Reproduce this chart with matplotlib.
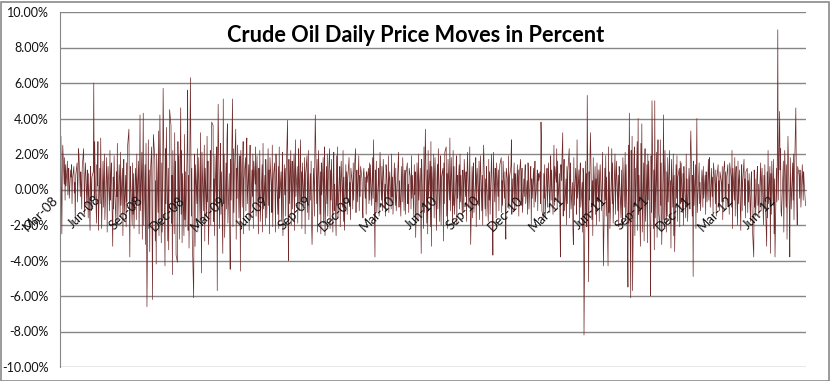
import numpy as np
import pandas as pd
import matplotlib
matplotlib.use("Agg")
import matplotlib.pyplot as plt
import matplotlib.dates as mdates
from matplotlib.ticker import FuncFormatter, MultipleLocator
from matplotlib.patches import Rectangle

# daily % moves, one list per calendar year
moves_2008 = [
    3.0, -0.4, -2.5, 1.2, 2.5, 0.3, 1.8, -0.6, 1.4, 0.2, 1.6, -0.3, 0.9, 1.2, -0.5, 1.1, 0.7, 1.4, -0.8, 0.6,
    1.3, -0.2, 0.4, -1.8, 0.8, 1.5, -0.7, 0.5, 2.3, 1.9, -0.4, 1.0, 0.3, -1.1, 1.2, 2.3, 0.6, -1.4, 0.8, 1.5,
    -0.9, 1.1, 0.2, -1.6, 0.9, -2.3, 1.3, 0.4, -1.2, 0.7, 1.0, 6.0, -0.5, 2.7, 0.8, -1.9, 1.4, 0.2, 2.7, -2.3,
    1.2, -0.8, 2.9, 0.5, -2.2, 1.6, -1.0, 0.6, 2.0, -1.7, 0.9, 1.8, -2.4, 0.4, 1.3, -1.2, 2.2, -0.6, 0.8, 1.5,
    -3.2, 0.7, -1.1, 1.9, 0.3, -2.0, 1.0, -0.4, 2.6, -1.8, 1.4, 0.6, -1.5, 2.1, -0.9, 1.2, -2.6, 0.5, 1.7, -1.3,
    0.8, -2.1, 1.5, -0.7, 2.4, 3.4, -1.0, -3.8, 1.3, 0.4, -2.0, 1.5, -1.4, 0.9, -2.2, 1.2, 0.6, -1.7, 2.0, -0.8,
    1.6, -2.5, 0.3, 4.2, -1.2, 2.1, -2.8, 0.8, 4.3, -2.0, 1.4, -3.1, 2.6, -1.5, -6.6, 2.8, -2.2, 1.1, -3.5, 0.6,
    2.4, -1.8, -6.2, 1.0, 3.1, 1.7, -2.9, 0.5, -4.2, 2.0, -1.3, 3.3, -2.6, 0.9, 4.2, -3.0, 1.5, -2.4, 0.7, 5.7,
    -1.6, -4.3, 2.3, -0.8, 3.5, -2.9, 1.2, -3.4, 0.6, 4.5, 3.6, -1.9, 0.8, -4.8, 2.2, -2.5, 3.2, -1.1, 1.6, -3.7,
    -4.1, 2.7, -0.6, 1.9, -2.8, 4.6, -1.4, 2.2, -3.0, 0.9, -2.6, 3.1, -1.7, 1.0, -2.1, 2.4, 5.6, -2.3, 0.8, -3.3,
    6.3, 2.6, -1.5, 1.2, -2.7, -6.1, 0.5, 2.0, -3.2, 1.4, -0.8, 2.3, -2.4, 0.5, 1.8, -1.9, 3.2, -1.0,
]
moves_2009 = [
    -4.7, 2.1, -1.2, 0.8, 2.5, -2.9, 1.2, -1.5, 3.0, -0.7, 1.6, -3.1, 0.4, 2.2, -2.0, 1.1, 3.8, 3.6, -1.8, 0.6,
    -2.6, 1.9, -0.9, 2.4, -5.7, 1.3, 4.8, -2.2, 0.7, 2.6, -1.4, 1.0, -3.6, 5.1, -0.8, 2.0, -2.7, 1.5, -1.1, 2.8,
    3.7, -1.9, 0.9, -2.4, -4.5, 1.7, -0.6, 5.1, -2.1, 2.3, -1.3, 0.8, 3.4, -2.8, 1.2, -0.5, 2.5, -1.6, 0.4, 1.9,
    -4.6, 2.2, -1.0, 1.5, 2.7, -2.5, 0.6, 1.8, -1.2, 2.3, 2.9, -0.8, 1.4, -2.3, 0.9, 2.5, -1.7, 1.1, -0.4, 2.0,
    -2.2, 1.6, 0.3, 2.4, -1.5, 0.7, 1.9, -2.5, 1.2, -0.6, 2.2, -1.8, 0.5, 1.4, -2.4, 2.6, -1.1, 0.8, -2.0, 1.7,
    0.4, -1.6, 2.3, -0.9, 1.1, -2.5, 1.8, 0.2, -1.3, 2.5, -2.1, 0.6, 1.5, -0.7, -2.4, 2.0, 0.9, -1.4, 1.3, -2.2,
    2.4, -0.5, 1.0, -1.8, 0.6, 2.1, -2.6, 1.4, -0.3, 1.2, -1.5, 0.8, 3.9, -1.2, -4.0, 1.7, -0.8, 2.2, -2.0, 0.5,
    1.6, -1.1, 2.0, -2.3, 0.9, 2.8, -0.4, 1.3, -1.9, 0.6, 2.3, -1.2, 2.8, -0.7, 1.0, -2.2, 1.5, -0.9, 0.4, 1.8,
    -2.5, 0.8, 1.9, -1.3, 0.5, 2.2, -1.7, 0.9, -0.6, 1.6, -2.0, -3.1, 1.2, 0.4, -1.5, 2.1, 4.2, -0.8, 1.7, -2.4,
    0.6, 2.2, -1.4, 1.0, -2.5, 1.5, -0.3, 1.8, -1.9, 0.7, 2.4, -2.6, 1.3, -0.8, 2.0, -1.5, 0.5, 2.3, -2.2, 1.1,
    -0.6, 1.7, -2.4, 0.9, 2.1, -1.2, 0.3, -2.6, 1.9, -0.9, 2.4, -1.6, 0.8, 1.3, -2.1, 0.5, 1.6, -1.0, 2.2, -1.8,
    0.7, -2.3, 1.4, -0.5, 1.0, -1.4, 0.6, 1.8, -0.8, 0.4, -1.7, 1.2, 0.3, -1.1, 1.5, -0.6, 0.9, 2.3, -1.3, 0.5,
    1.1, -0.7, 1.9, -1.2, 0.8, -0.4, 1.3, 0.6, -1.0, -1.6, 0.9, 1.2, -0.5, 0.7, -1.4, 1.0, 0.4, 1.2, -0.8, 1.5, -0.6,
]
moves_2010 = [
    1.4, -0.9, 0.6, 1.8, -0.5, 2.8, -3.8, 1.1, -0.7, 1.6, -1.3, 0.4, 1.2, -1.5, 0.8, 2.1, -0.6, 1.3, -1.2, 0.5,
    1.7, -1.0, 0.3, -1.5, 1.4, 0.9, -0.8, 1.9, -1.3, 0.6, 1.0, -1.1, 2.0, -0.4, 0.7, -1.4, 1.5, 0.2, -0.9, 1.2,
    -1.2, 0.8, 1.6, 2.1, -1.0, 0.5, -1.5, 1.3, 0.4, -0.7, 1.8, -1.2, 0.6, 1.1, -1.4, 0.9, 1.5, -0.8, 0.3, -1.3,
    1.2, 0.6, -1.1, 1.9, -0.5, 0.8, -1.6, 1.4, -0.3, 1.0, -2.7, 1.5, 0.7, -1.8, 2.0, -0.6, 1.2, -1.4, -3.6, 1.7,
    0.5, -2.2, 2.4, -1.3, 0.8, 3.4, -1.9, 1.1, -2.5, 2.2, -0.4, 1.6, -2.1, 2.7, -3.2, 1.3, -0.7, 2.0, -1.6, 0.9,
    1.8, -2.3, 0.6, 1.4, -1.1, 2.3, -1.8, 0.4, 1.9, -2.0, 0.7, 1.2, -2.9, 1.5, -0.8, 2.1, 2.4, -1.5, 0.9, -2.2,
    1.7, -0.6, 2.9, -1.2, 0.5, 1.8, -1.9, 2.2, -0.9, 1.3, -1.4, 0.6, 1.9, -2.0, 0.8, -0.5, 1.4, -1.1, 2.0, -0.7,
    0.8, -1.5, 1.1, 0.3, -1.2, 1.7, -0.4, 1.0, -1.8, 0.6, 2.1, -1.0, 0.5, 2.4, -0.8, -3.1, 1.3, -1.6, 0.9, 1.5,
    -1.3, 0.4, 1.8, -2.1, 0.7, 1.2, -0.9, 1.6, -1.7, 0.5, 1.9, -1.2, 0.8, -2.0, 1.4, 2.5, -1.1, 0.6, -1.5, 1.3,
    0.3, -1.8, 1.7, -0.6, 1.0, -1.4, 2.0, 0.5, -1.0, -3.7, 2.1, -0.7, 1.2, 0.6, -1.6, 1.5, -0.4, 1.1, -1.2, 0.8,
    1.4, 1.8, -1.3, 0.5, -0.9, 1.6, -0.5, 1.0, -1.5, -2.8, 1.2, 0.4, -0.8, 1.9, -1.1, 0.7, 1.3, 2.8, -1.4, 0.6,
    -0.7, 1.5, -1.2, 0.9, 0.3, -1.0, 1.4, -0.6, 1.1, -1.5, 0.8, 1.7, -0.9, 0.4, 1.2, -1.3, 0.6, -0.4, 1.0, 1.4,
    -0.8, 0.5, -1.4, 1.5, 0.7, -1.1, 0.9, 1.3, -2.0, 0.6, -0.5, 1.2, -1.0, 0.8, 1.6, -0.7, 0.4, 1.1, -1.2, 0.9, 0.5,
]
moves_2011 = [
    1.0, -0.8, 3.8, 2.7, -1.2, -1.6, 0.9, -0.5, 1.4, -1.6, 0.7, 1.2, -1.0, 0.4, 1.5, -1.3, 0.8, 1.9, -0.6, 1.1,
    -1.4, 0.6, 2.5, -0.9, 1.3, 0.4, 2.3, -1.1, 1.6, -0.7, 0.9, -1.8, -3.8, 1.4, 0.5, 3.2, -1.5, 0.8, 1.7, -1.2,
    0.6, -2.0, 1.3, -0.8, 1.0, 2.3, -1.6, 0.7, 1.5, -1.1, 0.4, -2.2, -3.1, 1.8, -0.9, 1.2, 0.6, -1.4, 2.8, -0.5,
    1.1, -1.9, 0.8, 1.5, -1.0, 0.4, -2.4, 1.2, 0.7, -8.2, 1.6, -1.5, 0.9, -2.1, 5.3, -5.2, 1.0, -0.6, 1.8, 3.2,
    -1.7, 0.5, -2.6, 1.8, -0.9, 1.3, -1.4, 0.6, -2.0, 1.5, -0.7, 1.1, -1.8, 0.8, 1.4, -1.2, 0.5, 2.1, -1.0, -4.3,
    1.2, -0.6, 1.9, -1.5, 0.7, -4.3, 2.4, -1.3, 1.0, -2.2, 0.6, 2.3, -0.8, 1.5, -1.9, 0.9, 2.0, -1.4, 0.4, 1.6,
    -1.2, 0.8, -2.1, 1.3, 0.5, -1.6, 1.1, -0.7, -2.0, 1.8, -1.0, 0.6, 2.1, -1.7, 1.4, -2.8, -5.5, 2.5, -1.9, 4.3,
    -6.1, 2.2, -1.5, 3.0, -5.7, 1.7, 2.4, -2.6, 1.2, -0.9, 2.7, -2.3, 4.0, -1.4, 0.8, -3.2, 2.6, -1.1, 3.7, -2.4,
    1.5, -2.9, 0.9, 2.3, -1.8, 1.4, -3.0, 2.0, -0.6, 1.6, -2.5, -6.0, 1.9, -1.3, 5.0, -2.2, 1.1, -3.4, 5.0, -1.6,
    2.1, -2.7, 0.8, 2.8, -1.2, -2.3, 2.8, -0.9, 1.5, -3.1, 1.2, 4.2, -1.7, 0.6, 2.2, -2.4, 1.0, -1.5, 1.8, -0.7,
    2.2, -1.9, 0.5, -3.3, 1.7, -1.0, 2.0, -2.6, 0.8, -3.5, 1.4, -0.5, 1.9, -1.8, 0.7, 1.2, -2.1, 1.6, -0.8, 1.5,
    -1.3, 0.9, -2.0, 1.3, 0.5, -1.6, 2.0, -1.0, 0.6, -1.8, 1.2, 0.4, -1.1, 2.3, 3.3, -1.5, 0.8, -4.9, 1.6, -0.9,
    1.4, -2.2, 0.7, 4.0, -1.3, 0.9, 1.5, -0.8, 0.4, -1.2, 1.1, 0.6, -1.0, 1.3, -0.5, 0.8, -1.4, 1.0, 0.3, -0.7,
]
moves_2012 = [
    1.7, -0.6, 1.8, 0.9, -1.0, 1.2, -0.4, 0.7, -1.3, 1.5, 0.3, -0.8, 1.1, -1.5, 0.6, 1.4, -0.9, 0.5, -1.2, 1.0,
    0.4, -0.7, 1.3, -1.7, 0.8, 1.6, -0.5, 1.0, -1.1, 0.6, 1.4, -0.9, 0.3, -1.4, 1.5, 0.7, -1.0, 2.2, -2.2, 1.2,
    -0.6, 1.8, -1.5, 0.9, 1.3, -2.0, 1.6, -0.8, 0.5, 1.1, -2.3, 0.7, 1.4, -1.2, 0.4, 1.7, -0.9, 0.6, -1.6, 1.0,
    1.2, -1.3, 0.5, -0.7, 0.9, -1.8, 0.4, 1.0, -0.6, -2.1, -3.8, 1.1, -1.0, 0.6, -1.5, 0.8, 1.3, -0.9, 0.3, -1.4,
    0.7, 1.5, -1.2, 0.5, 1.2, -2.0, 0.8, -1.1, 1.4, -0.5, -3.2, 1.0, -1.6, 2.2, -0.8, 1.3, -3.6, 0.9, -1.4, 1.6,
    -0.9, 1.7, -2.5, 0.6, -3.8, 1.2, -0.7, 2.0, 9.0, -0.6, 4.4, 1.1, 2.3, -1.2, -1.5, 0.8, 1.6, -2.4, 0.5, 2.2,
    -1.0, 1.4, -2.8, 0.9, 3.0, -1.3, -3.8, 1.8, 0.4, -1.1, 1.5, -0.6, 2.0, -1.7, 0.7, 4.6, 1.2, -0.8, -2.0, 1.3,
    0.8, -0.5, 1.1, 0.6, -1.0, 1.4, 0.3, -0.6, 1.0, 0.4, -0.9, -0.9,
]
year_starts = ["2008-03-03", "2009-01-01", "2010-01-01", "2011-01-03", "2012-01-02"]
yearly = [moves_2008, moves_2009, moves_2010, moves_2011, moves_2012]

dates = []
moves = []
for start, vals in zip(year_starts, yearly):
    dates.extend(pd.bdate_range(start, periods=len(vals)))
    moves.extend(vals)
dates = pd.DatetimeIndex(dates)
moves = np.array(moves)

grid_col = "#868686"
line_col = "#6E2A2A"

fig = plt.figure(figsize=(8.31, 3.81), dpi=100)
ax = fig.add_axes([60 / 831, 14 / 381, 746 / 831, 355 / 381])

ax.plot(dates, moves, color=line_col, lw=0.5, zorder=2)

ax.set_ylim(-10, 10)
ax.set_xlim(pd.Timestamp("2008-03-01"), pd.Timestamp("2012-07-31"))
ax.yaxis.set_major_locator(MultipleLocator(2))
ax.yaxis.set_major_formatter(FuncFormatter(lambda v, p: f"{v:.2f}%"))
ax.grid(axis="y", color=grid_col, lw=1)
ax.set_axisbelow(True)

ax.xaxis.set_major_locator(mdates.MonthLocator(bymonth=[3, 6, 9, 12]))
ax.xaxis.set_major_formatter(mdates.DateFormatter("%b-%y"))
# date labels sit on top of the line, like excel does
ax.xaxis.set_zorder(3)

for s in ["top", "right"]:
    ax.spines[s].set_visible(False)
ax.spines["left"].set_color(grid_col)
ax.spines["bottom"].set_position(("data", 0))
ax.spines["bottom"].set_color(grid_col)
ax.spines["bottom"].set_zorder(1)

ax.tick_params(axis="y", length=0, pad=8, labelsize=9, labelcolor="#111111")
ax.tick_params(axis="x", length=0, pad=3, labelsize=9.5, labelcolor="#111111")
for lab in ax.get_yticklabels() + ax.get_xticklabels():
    lab.set_family("Lato")
for lab in ax.get_xticklabels():
    lab.set_rotation(45)
    lab.set_ha("right")
    lab.set_va("top")

fig.text(0.5, 1 - 36 / 381, "Crude Oil Daily Price Moves in Percent",
         ha="center", va="center", fontsize=15.7, fontweight="bold", family="Lato")

fig.patches.append(Rectangle((1 / 831, 0.5 / 381), 828 / 831, 379 / 381,
                             transform=fig.transFigure, fill=False,
                             edgecolor="#8A8A8A", lw=1.2))

fig.savefig("out.png", dpi=100)
